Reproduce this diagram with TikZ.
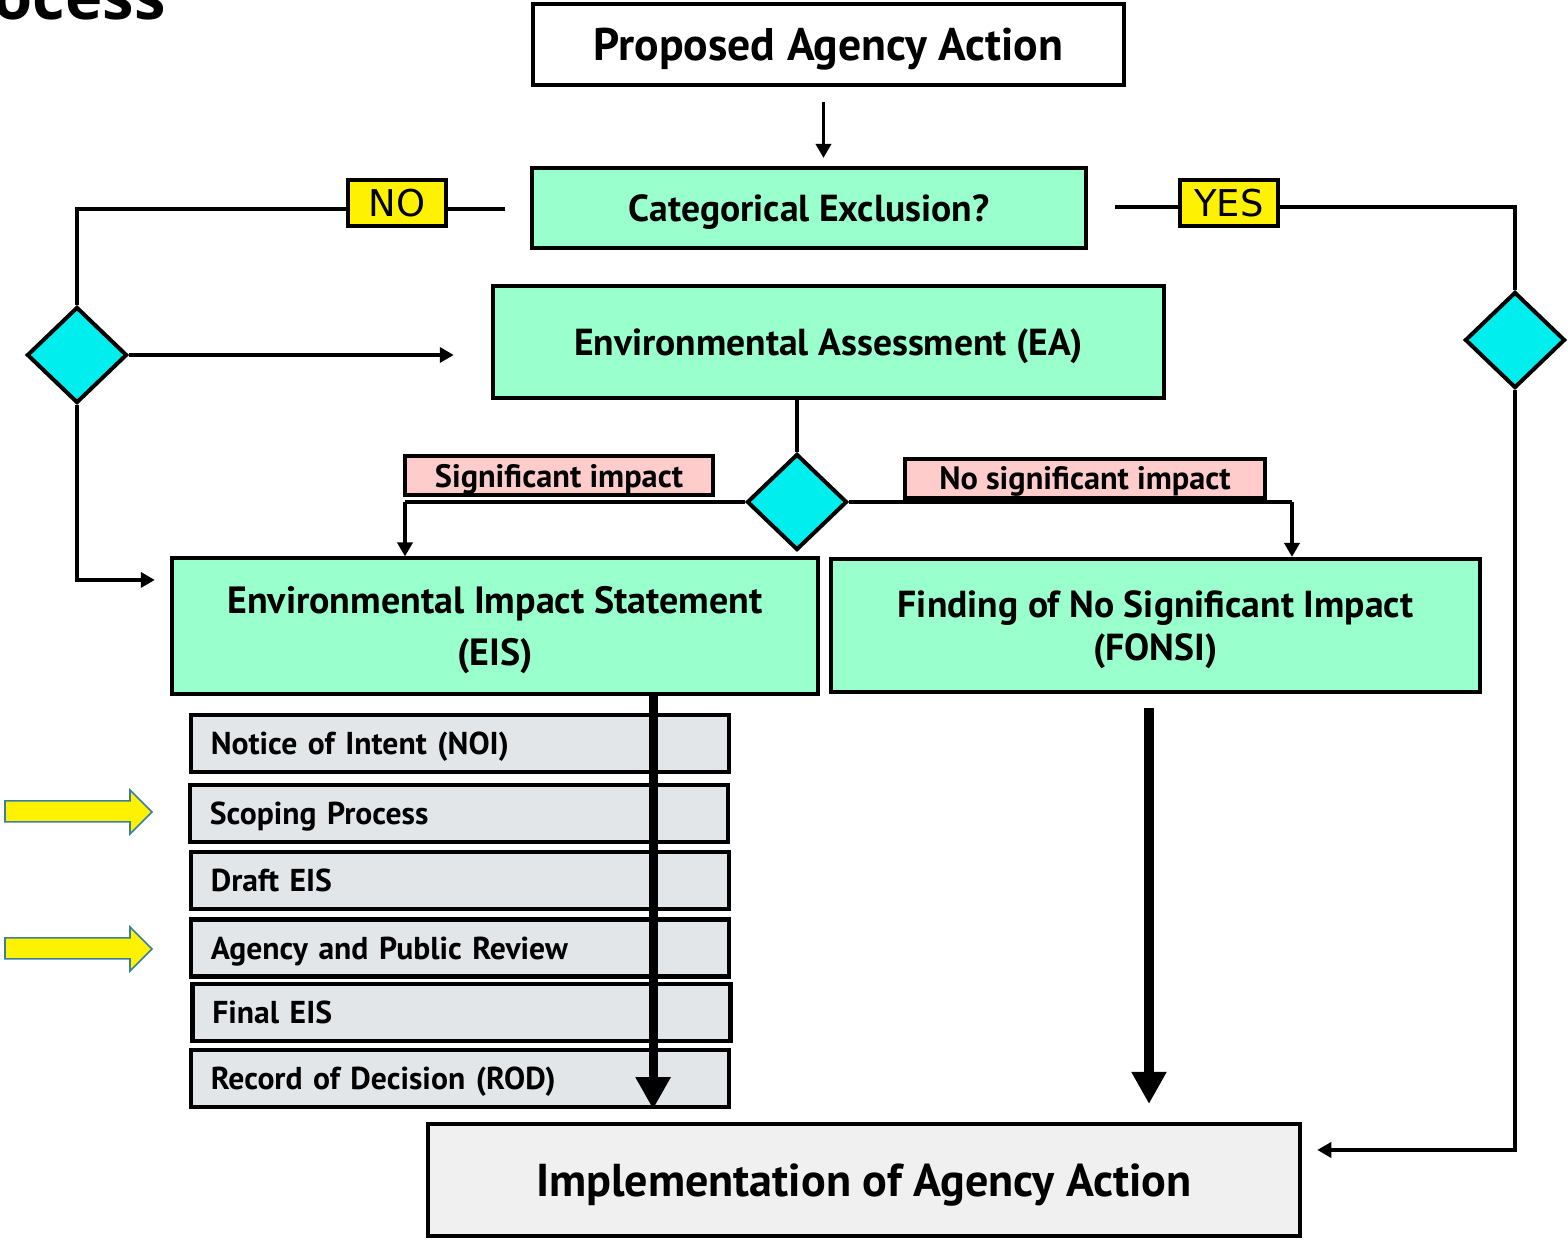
\documentclass[tikz,border=0pt]{standalone}
\usepackage{fontspec}
\setmainfont{PT Sans}
\newfontfamily\labelfont{DejaVu Sans}
\newfontfamily\titlefont{Open Sans}
\usetikzlibrary{shapes.geometric,arrows.meta}

\definecolor{mint}{HTML}{99FFCC}
\definecolor{turq}{HTML}{00EEEE}
\definecolor{pinkbox}{HTML}{FFCCCC}
\definecolor{stepgrey}{HTML}{E3E6E8}
\definecolor{implgrey}{HTML}{F0F0F0}
\definecolor{hintedge}{HTML}{3A7FA0}

\begin{document}
\begin{tikzpicture}[x=0.01cm,y=-0.01cm,
  box/.style={draw,line width=0.04cm,fill=mint,inner sep=0pt,align=center,text depth=0pt,
    font=\bfseries\fontsize{10.7}{13}\selectfont},
  stepbox/.style={draw,line width=0.045cm,fill=stepgrey,minimum height=0.57cm,
    text width=4.98cm,inner xsep=0.2cm,inner ysep=0pt,align=left,text depth=0pt,
    font=\bfseries\fontsize{9}{11}\selectfont},
  decision/.style={diamond,draw,line width=0.04cm,fill=turq,inner sep=0pt,
    minimum width=1cm,minimum height=0.96cm},
  answer/.style={draw,line width=0.04cm,fill=yellow,inner sep=0pt,
    minimum width=0.98cm,minimum height=0.46cm,font=\labelfont\fontsize{10.5}{12}\selectfont},
  impact/.style={draw,line width=0.04cm,fill=pinkbox,inner sep=0pt,minimum height=0.39cm,
    text depth=0pt,font=\bfseries\fontsize{9.2}{11}\selectfont},
  conn/.style={line width=0.035cm,-{Triangle[width=0.15cm,length=0.14cm]}},
  line/.style={line width=0.035cm},
  bigarrow/.style={line width=0.09cm,-{Triangle[width=0.33cm,length=0.32cm]}},
  hint/.style={draw=hintedge,line width=0.015cm,fill=yellow}]
\useasboundingbox (0,0) rectangle (1568,1240);

\node[anchor=base east,font=\titlefont\bfseries\fontsize{18}{20}\selectfont] (title) at (178,20) {Process};

\node[box,fill=white,minimum width=5.91cm,minimum height=0.81cm,font=\bfseries\fontsize{13}{15}\selectfont] (pa) at (828.5,44.5) {Proposed Agency Action};
\node[box,minimum width=5.54cm,minimum height=0.80cm] (ce) at (809,208) {Categorical Exclusion?};
\node[box,minimum width=6.71cm,minimum height=1.12cm] (ea) at (828.5,342) {Environmental Assessment (EA)};
\node[box,minimum width=6.46cm,minimum height=1.35cm,font=\bfseries\fontsize{10.8}{15}\selectfont] (eis) at (495,626) {Environmental Impact Statement\\(EIS)};
\node[box,minimum width=6.49cm,minimum height=1.33cm,font=\bfseries\fontsize{10.7}{12.4}\selectfont] (fonsi) at (1155.5,625.5) {Finding of No Significant Impact\\(FONSI)};
\node[box,fill=implgrey,minimum width=8.72cm,minimum height=1.12cm,font=\bfseries\fontsize{13.1}{16}\selectfont] (impl) at (864,1180) {Implementation of Agency Action};

\node[decision] (dl) at (77,355) {};
\node[decision] (dm) at (797,502) {};
\node[decision] (dr) at (1515,340) {};

\node[stepbox] (noi) at (460,743.5) {Notice of Intent (NOI)};
\node[stepbox] (scope) at (459,813.5) {Scoping Process};
\node[stepbox] (deis) at (460,880.5) {Draft EIS};
\node[stepbox] (review) at (460,948) {Agency and Public Review};
\node[stepbox] (feis) at (461.5,1012.5) {Final EIS};
\node[stepbox] (rod) at (460,1078.5) {Record of Decision (ROD)};

\coordinate (noend) at (505,209);
\coordinate (yesend) at (1115,207);
\coordinate (fonsiin) at (1292,502);

\draw[conn,shorten <=0.15cm,shorten >=0.08cm] ([xshift=-0.05cm]pa.south) -- ([xshift=-0.05cm]pa.south |- ce.north);
\draw[line] (noend) -- (noend -| dl) -- (dl.north);
\draw[line] (yesend) -- (yesend -| dr) -- (dr.north);
\draw[conn,shorten >=0.37cm] (dl.east) -- (dl.east -| ea.west);
\draw[conn,shorten >=0.15cm] (dl.south) |- ([yshift=0.46cm]eis.west);
\draw[line] (ea.south -| dm.north) -- (dm.north);
\draw[line] (dm.west) -- (dm.west -| 405,0) coordinate (eisin);
\draw[conn] (eisin) -- (eisin |- eis.north);
\draw[line] (dm.east) -- (fonsiin);
\draw[conn] (fonsiin) -- (fonsiin |- fonsi.north);
\draw[conn,shorten >=0.15cm] (dr.south) |- ([yshift=0.3cm]impl.east);

\draw[bigarrow] ([xshift=1.58cm]eis.south) -- ([xshift=1.58cm]eis.south |- rod.south);
\draw[bigarrow,shorten <=0.14cm,shorten >=0.18cm] ([xshift=-0.065cm]fonsi.south) -- ([xshift=-0.065cm]fonsi.south |- impl.north);

\node[answer] (no) at (397,203) {NO};
\node[answer] (yes) at (1229,203) {YES};
\node[impact,minimum width=3.08cm] (sig) at (559,475.5) {Significant impact};
\node[impact,minimum width=3.60cm] (nosig) at (1085,478.5) {No significant impact};

\draw[hint] (5,801) -- (130,801) -- (130,790) -- (152,812) -- (130,834) -- (130,822) -- (5,822) -- cycle;
\draw[hint] (5,938) -- (130,938) -- (130,927) -- (152,949) -- (130,971) -- (130,959) -- (5,959) -- cycle;
\end{tikzpicture}
\end{document}
